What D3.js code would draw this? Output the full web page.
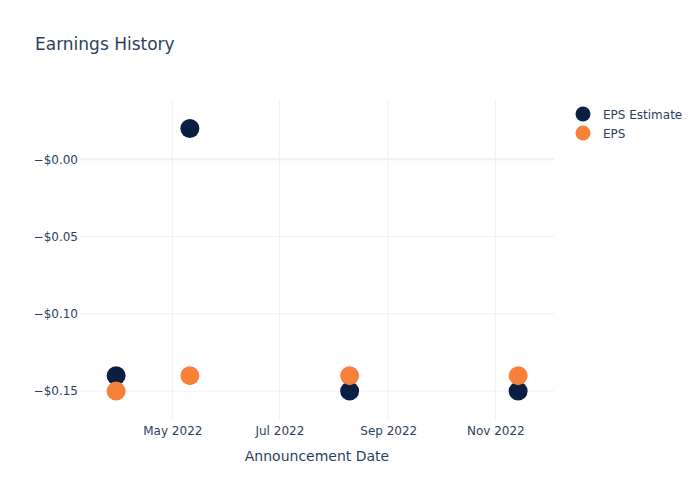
<!DOCTYPE html>
<html><head><meta charset="utf-8">
<script src="https://cdn.jsdelivr.net/npm/d3@7"></script>
<style>body{margin:0;background:#fff}svg{display:block;font-family:"DejaVu Sans",Verdana,sans-serif}</style>
</head><body>
<svg id="c" width="700" height="500"></svg>
<script>
const dates = ["2022-03-30","2022-05-11","2022-08-10","2022-11-14"];
const epsEstimate = [-0.14, 0.02, -0.15, -0.15];
const eps = [-0.15, -0.14, -0.14, -0.14];
const yTicks = [0, -0.05, -0.10, -0.15];
const yTickLabels = ["\u2212$0.00","\u2212$0.05","\u2212$0.10","\u2212$0.15"];
const xTicks = ["2022-05-01","2022-07-01","2022-09-01","2022-11-01"];
const xTickLabels = ["May 2022","Jul 2022","Sep 2022","Nov 2022"];
const seriesNames = ["EPS Estimate","EPS"];
const colors = ["#0b1f42","#f7813a"];

const svg = d3.select("#c");
const W=700,H=500, m={l:80,r:146,t:100,b:80};
const parse = d3.utcParse("%Y-%m-%d");
const x = d3.scaleUtc().domain([new Date(Date.UTC(2022,2,9,10)), new Date(Date.UTC(2022,11,4,10))]).range([m.l, W-m.r]);
const y = d3.scaleLinear().domain([-0.1687, 0.0384]).range([H-m.b, m.t]);
const tc = "#2a3f5f", grid = "#ebf0f8";

// grids
svg.append("g").selectAll("line").data(xTicks).join("line")
  .attr("x1",d=>x(parse(d))).attr("x2",d=>x(parse(d)))
  .attr("y1",m.t).attr("y2",H-m.b).attr("stroke",grid).attr("stroke-width",1);
svg.append("g").selectAll("line").data(yTicks).join("line")
  .attr("x1",m.l).attr("x2",W-m.r)
  .attr("y1",d=>y(d)).attr("y2",d=>y(d)).attr("stroke",grid).attr("stroke-width",d=>d===0?2:1);

// y axis
const yAxis = d3.axisLeft(y).tickValues(yTicks).tickFormat((d,i)=>yTickLabels[i]).tickSize(0).tickPadding(2);
const gy = svg.append("g").attr("transform",`translate(${m.l},0)`).call(yAxis);
gy.select(".domain").remove();
gy.selectAll("text").attr("fill",tc).attr("font-size",12).attr("font-family","DejaVu Sans, Verdana, sans-serif");

// x axis
const xAxis = d3.axisBottom(x).tickValues(xTicks.map(parse)).tickFormat((d,i)=>xTickLabels[i]).tickSize(0).tickPadding(6);
const gx = svg.append("g").attr("transform",`translate(0,${H-m.b})`).call(xAxis);
gx.select(".domain").remove();
gx.selectAll("text").attr("fill",tc).attr("font-size",12).attr("font-family","DejaVu Sans, Verdana, sans-serif");

// points
const series = [epsEstimate, eps];
series.forEach((vals,si)=>{
  svg.append("g").selectAll("circle").data(vals).join("circle")
    .attr("cx",(d,i)=>x(parse(dates[i]))).attr("cy",d=>y(d))
    .attr("r",9.5).attr("fill",colors[si]);
});

// title
svg.append("text").attr("x",35).attr("y",50).attr("font-size",17).attr("fill",tc).text("Earnings History");
// axis title
svg.append("text").attr("x",(m.l+W-m.r)/2).attr("y",461).attr("text-anchor","middle").attr("font-size",14).attr("fill",tc).text("Announcement Date");

// legend
const lg = svg.append("g");
seriesNames.forEach((n,i)=>{
  const yy = 114 + i*19;
  lg.append("circle").attr("cx",583).attr("cy",yy).attr("r",7.5).attr("fill",colors[i]);
  lg.append("text").attr("x",603).attr("y",yy+4.5).attr("font-size",12).attr("fill",tc).text(n);
});
</script>
</body></html>
